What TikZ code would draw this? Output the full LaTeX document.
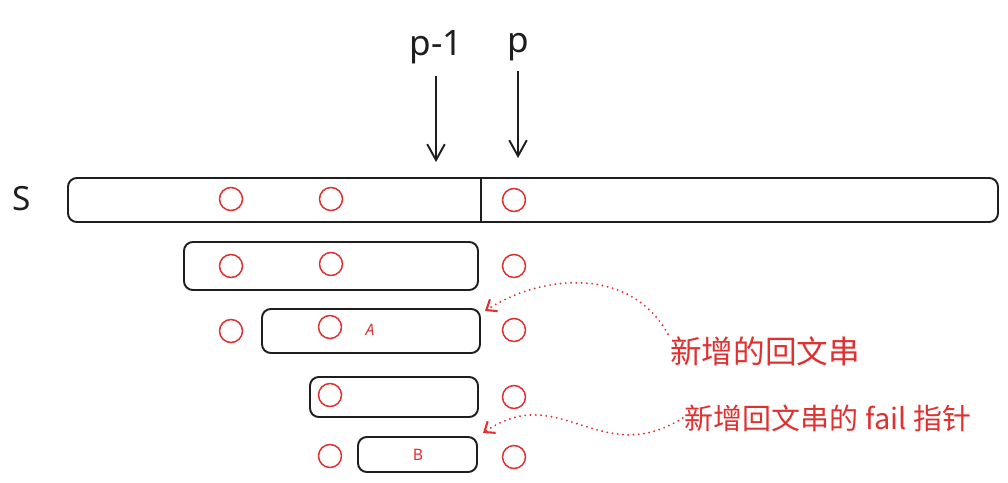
\documentclass[tikz,border=0pt]{standalone}
\usepackage{fontspec}
\setmainfont{Noto Sans}
\newfontfamily\cjk{Noto Sans CJK SC}
\usetikzlibrary{positioning, arrows.meta, fit}

\definecolor{ink}{HTML}{1E1E1E}
\definecolor{inkred}{HTML}{E03131}

\begin{document}
\begin{tikzpicture}[
    x=0.02cm, y=-0.02cm,
    box/.style={draw=ink, line width=1.1pt, rounded corners=5pt, inner sep=0pt},
    pal/.style={draw=inkred, circle, line width=0.85pt, minimum size=0.46cm, inner sep=0pt},
    pointer/.style={draw=ink, line width=1.1pt, -{Straight Barb[length=9pt, width=10pt]}},
    note/.style={draw=inkred, line width=1.2pt, line cap=round, dash pattern=on 0pt off 3pt, -{Straight Barb[length=5pt, width=8pt]}},
    mark text/.style={text=ink, inner sep=0pt}
]
    \useasboundingbox (0,0) rectangle (1008,483);

    % --- String S and its suffix palindromes ---
    \node[mark text, font=\fontsize{19}{19}\selectfont] (sname) at (22,199) {S};
    \node[box, fit={(68,178) (998,222)}] (sbar) {};
    \node[box, fit={(184,242) (478,290)}] (row2) {};
    \node[box, fit={(262,309) (480,353)}] (row3) {};
    \node[box, fit={(310,377) (478,417)}] (row4) {};
    \node[box, fit={(358,437) (477,472)}] (row5) {};
    \coordinate (cut) at (481,200);
    \draw[ink, line width=1.1pt] (sbar.north -| cut) -- (sbar.south -| cut);

    % --- Positions p-1 and p ---
    \node[mark text, font=\fontsize{20}{20}\selectfont] (pm1) at (436,47) {p-1};
    \node[mark text, font=\fontsize{20}{20}\selectfont] (pp) at (518,47) {p};
    \coordinate (pm1tip) at (436,162);
    \coordinate (pptip) at (518,158);
    \draw[pointer] (pm1.south) ++(0,12) -- (pm1tip);
    \draw[pointer] (pp.south) ++(0,10) -- (pptip);

    % --- Characters ---
    \node[pal] (s1) at (231,199) {};
    \node[pal] (s2) at (331,199) {};
    \node[pal] (s3) at (514,200) {};
    \node[pal] (r21) at (231,266) {};
    \node[pal] (r22) at (331,264) {};
    \node[pal] (r23) at (514,266) {};
    \node[pal] (r31) at (231,331) {};
    \node[pal] (r32) at (330,327) {};
    \node[pal] (r33) at (514,330) {};
    \node[pal] (r41) at (330,395) {};
    \node[pal] (r42) at (514,397) {};
    \node[pal] (r51) at (330,456) {};
    \node[pal] (r52) at (514,457) {};

    \node[text=inkred, font=\small\itshape] (namea) at (370,330) {A};
    \node[text=inkred, font=\small] (nameb) at (418,455) {B};

    % --- Notes ---
    \node[text=inkred, inner sep=1pt, font=\cjk\fontsize{18}{18}\selectfont] (note1) at (765,351) {新增的回文串};
    \node[text=inkred, inner sep=1pt, font=\cjk\fontsize{16.5}{16.5}\selectfont] (note2) at (828,418) {新增回文串的 fail 指针};
    \coordinate (tipa) at (485,311);
    \coordinate (tipb) at (483,433);
    \draw[note] (note1.north west) .. controls (630,265) and (540,275) .. (tipa);
    \draw[note] (note2.west) .. controls (600,470) and (560,380) .. (tipb);

\end{tikzpicture}
\end{document}
